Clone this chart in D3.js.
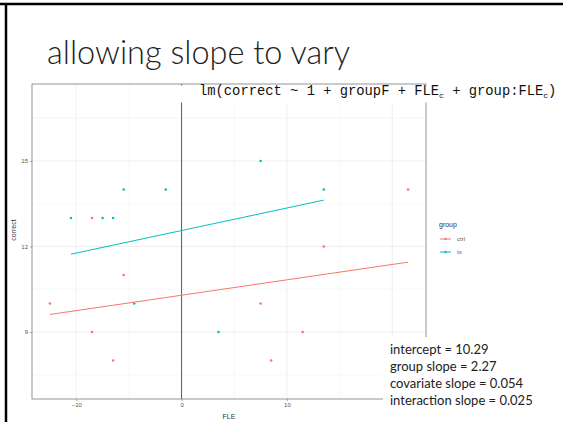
<!DOCTYPE html>
<html lang="en">
<head>
    <meta charset="UTF-8">
    <title>allowing slope to vary</title>
    <script src="https://d3js.org/d3.v7.min.js"></script>
    <style>
        body { margin: 0; background: #fff; }
        svg { display: block; }
        .tick-label { font-family: "Liberation Sans", Arial, sans-serif; font-size: 6px; fill: #555; }
        .axis-title { font-family: "Liberation Sans", Arial, sans-serif; font-size: 7px; fill: #333; }
        .note { font-family: Lato, "Open Sans", sans-serif; font-size: 13px; fill: #222; }
    </style>
</head>
<body>
<script>
    // data
    const ctrlFLE     = [-12.5, -8.5, -8.5, -6.5, -5.5, 7.5, 8.5, 11.5, 13.5, 21.5];
    const ctrlCorrect = [10, 13, 9, 8, 11, 10, 8, 9, 12, 14];
    const txFLE       = [-10.5, -7.5, -6.5, -5.5, -4.5, -1.5, 3.5, 7.5, 13.5];
    const txCorrect   = [13, 13, 13, 14, 10, 14, 9, 15, 14];

    // model coefficients
    const intercept = 10.29;
    const groupSlope = 2.27;
    const covSlope = 0.054;
    const interSlope = 0.025;

    const groups = ["ctrl", "tx"];
    const colors = ["#F8766D", "#00BFC4"];
    const xBreaks = [-10, 0, 10, 20];
    const xLabels = [-10, 0, 10];   // the 20 label sits under the notes box
    const xMinor = [-5, 5, 15];
    const yBreaks = [9, 12, 15];
    const yMinor = [7.5, 10.5, 13.5, 16.5];
    const notes = ["intercept = 10.29", "group slope = 2.27",
                   "covariate slope = 0.054", "interaction slope = 0.025"];

    const width = 563, height = 422;
    const svg = d3.select("body").append("svg")
        .attr("width", width).attr("height", height);

    // slide frame
    svg.append("line").attr("x1", 0).attr("x2", width).attr("y1", 4).attr("y2", 4)
        .attr("stroke", "#000").attr("stroke-width", 2.5);
    svg.append("line").attr("x1", 6).attr("x2", 6).attr("y1", 3).attr("y2", height)
        .attr("stroke", "#000").attr("stroke-width", 2.5);

    svg.append("text").text("allowing slope to vary")
        .attr("x", 47).attr("y", 64)
        .style("font-family", "Lato, 'Open Sans', sans-serif")
        .style("font-weight", 300)
        .style("font-size", "32.5px")
        .attr("fill", "#222");

    const panel = {left: 32, right: 426, top: 84, bottom: 399};
    const x = d3.scaleLinear().domain([-14.2, 23.2]).range([panel.left, panel.right]);
    const y = d3.scaleLinear().domain([6.65, 17.7]).range([panel.bottom, panel.top]);
    const color = d3.scaleOrdinal().domain(groups).range(colors);

    const g = svg.append("g");

    // grid
    g.selectAll("line.minor-x").data(xMinor).join("line")
        .attr("x1", d => x(d)).attr("x2", d => x(d))
        .attr("y1", panel.top).attr("y2", panel.bottom)
        .attr("stroke", "#f2f2f2").attr("stroke-width", 0.6);
    g.selectAll("line.minor-y").data(yMinor).join("line")
        .attr("y1", d => y(d)).attr("y2", d => y(d))
        .attr("x1", panel.left).attr("x2", panel.right)
        .attr("stroke", "#f2f2f2").attr("stroke-width", 0.6);
    g.selectAll("line.major-x").data(xBreaks).join("line")
        .attr("x1", d => x(d)).attr("x2", d => x(d))
        .attr("y1", panel.top).attr("y2", panel.bottom)
        .attr("stroke", "#ebebeb").attr("stroke-width", 0.8);
    g.selectAll("line.major-y").data(yBreaks).join("line")
        .attr("y1", d => y(d)).attr("y2", d => y(d))
        .attr("x1", panel.left).attr("x2", panel.right)
        .attr("stroke", "#ebebeb").attr("stroke-width", 0.8);

    // vertical line at FLE = 0
    g.append("line")
        .attr("x1", x(0)).attr("x2", x(0))
        .attr("y1", panel.top).attr("y2", panel.bottom)
        .attr("stroke", "#333").attr("stroke-width", 0.8);

    // points
    const pts = [];
    ctrlFLE.forEach((v, i) => pts.push({g: "ctrl", x: v, y: ctrlCorrect[i]}));
    txFLE.forEach((v, i) => pts.push({g: "tx", x: v, y: txCorrect[i]}));
    g.selectAll("circle.pt").data(pts).join("circle")
        .attr("cx", d => x(d.x)).attr("cy", d => y(d.y))
        .attr("r", 1.3).attr("fill", d => color(d.g));

    // fitted lines from coefficients over each group's FLE range
    const fits = [
        {g: "ctrl", a: intercept, b: covSlope, ext: d3.extent(ctrlFLE)},
        {g: "tx", a: intercept + groupSlope, b: covSlope + interSlope, ext: d3.extent(txFLE)}
    ];
    g.selectAll("line.fit").data(fits).join("line")
        .attr("x1", d => x(d.ext[0])).attr("y1", d => y(d.a + d.b * d.ext[0]))
        .attr("x2", d => x(d.ext[1])).attr("y2", d => y(d.a + d.b * d.ext[1]))
        .attr("stroke", d => color(d.g)).attr("stroke-width", 1);

    // panel border
    g.append("rect")
        .attr("x", panel.left).attr("y", panel.top)
        .attr("width", panel.right - panel.left).attr("height", panel.bottom - panel.top)
        .attr("fill", "none").attr("stroke", "#7a7a7a").attr("stroke-width", 0.8);

    // axes
    const xAxis = svg.append("g").attr("transform", `translate(0,${panel.bottom})`)
        .call(d3.axisBottom(x).tickValues(xLabels).tickSize(2).tickPadding(2));
    const yAxis = svg.append("g").attr("transform", `translate(${panel.left},0)`)
        .call(d3.axisLeft(y).tickValues(yBreaks).tickSize(2).tickPadding(2));
    [xAxis, yAxis].forEach(a => {
        a.select(".domain").remove();
        a.selectAll(".tick line").attr("stroke", "#777").attr("stroke-width", 0.6);
        a.selectAll(".tick text").attr("class", "tick-label").attr("fill", null);
    });

    svg.append("text").attr("class", "axis-title").text("FLE")
        .attr("x", (panel.left + panel.right) / 2).attr("y", 419)
        .attr("text-anchor", "middle");
    svg.append("text").attr("class", "axis-title").text("correct")
        .attr("transform", "translate(16,230) rotate(-90)")
        .attr("text-anchor", "middle");

    // legend
    const leg = svg.append("g").attr("transform", "translate(439,0)");
    leg.append("text").attr("class", "axis-title").text("group").attr("x", 0).attr("y", 226.5);
    const item = leg.selectAll("g.item").data(groups).join("g")
        .attr("transform", (d, i) => `translate(0,${239 + i * 13})`);
    item.append("line").attr("x1", 1).attr("x2", 12)
        .attr("stroke", d => color(d)).attr("stroke-width", 1);
    item.append("circle").attr("cx", 6.5).attr("r", 1.2).attr("fill", d => color(d));
    item.append("text").attr("class", "tick-label").text(d => d)
        .attr("x", 18).attr("y", 2);

    // code box
    svg.append("rect").attr("x", 175).attr("y", 85.5).attr("width", 388).attr("height", 17)
        .attr("fill", "#fff");
    const code = svg.append("text").attr("x", 199).attr("y", 95)
        .style("font-family", "'Liberation Mono', 'DejaVu Sans Mono', monospace")
        .style("font-size", "13.8px").attr("fill", "#111");
    code.append("tspan").text("lm(correct ~ 1 + groupF + FLE");
    code.append("tspan").text("c").attr("dy", 3).style("font-size", "8px");
    code.append("tspan").text(" + group:FLE").attr("dy", -3);
    code.append("tspan").text("c").attr("dy", 3).style("font-size", "8px");
    code.append("tspan").text(")").attr("dy", -3);

    // coefficient notes
    svg.append("rect").attr("x", 383).attr("y", 337).attr("width", 180).attr("height", 85)
        .attr("fill", "#fff");
    svg.selectAll("text.note").data(notes).join("text")
        .attr("class", "note")
        .attr("x", 390).attr("y", (d, i) => 353.5 + i * 17)
        .text(d => d);
</script>
</body>
</html>
